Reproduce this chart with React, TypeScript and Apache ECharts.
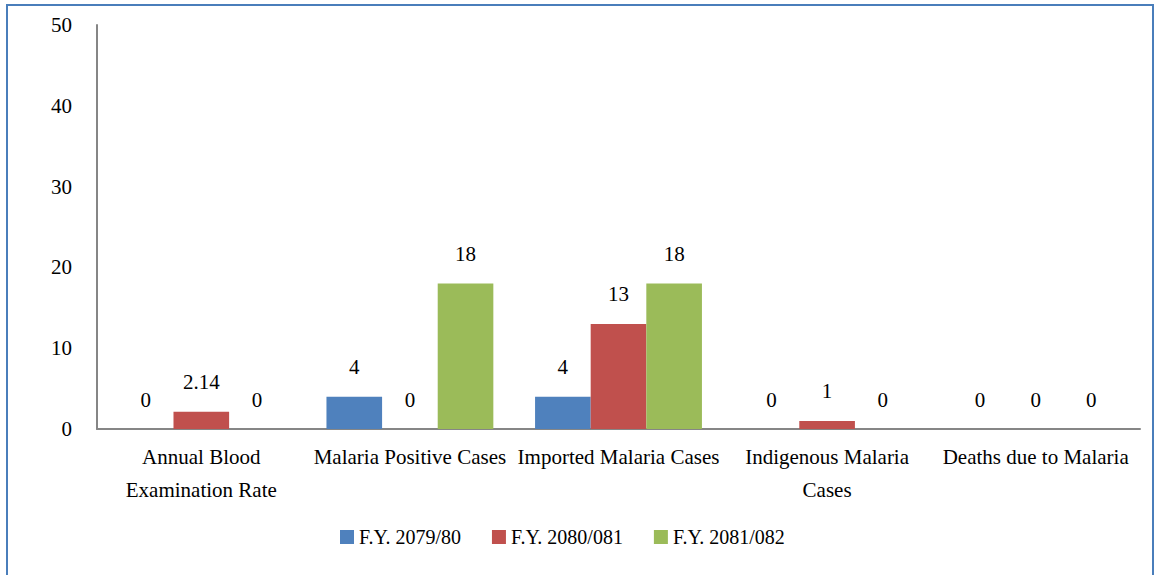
import React, { useEffect, useRef } from "react";
import * as echarts from "echarts";

const categories = [
  "Annual Blood Examination Rate",
  "Malaria Positive Cases",
  "Imported Malaria Cases",
  "Indigenous Malaria Cases",
  "Deaths due to Malaria",
];
const categoryLabels = [
  "Annual Blood\nExamination Rate",
  "Malaria Positive Cases",
  "Imported Malaria Cases",
  "Indigenous Malaria\nCases",
  "Deaths due to Malaria",
];
const seriesNames = ["F.Y. 2079/80", "F.Y. 2080/081", "F.Y. 2081/082"];
const fy2079 = [0, 4, 4, 0, 0];
const fy2080 = [2.14, 0, 13, 1, 0];
const fy2081 = [0, 18, 18, 0, 0];
const colors = ["#4f81bd", "#c0504d", "#9bbb59"];

const FONT = "Times New Roman";
const FS = 21;

export default function App() {
  const ref = useRef<HTMLDivElement>(null);
  useEffect(() => {
    if (!ref.current) return;
    const chart = echarts.init(ref.current, undefined, { renderer: "svg" });
    const data = [fy2079, fy2080, fy2081];
    chart.setOption({
      animation: false,
      textStyle: { fontFamily: FONT },
      color: colors,
      graphic: [
        {
          type: "rect",
          shape: { x: 7, y: 5, width: 1146, height: 620 },
          style: { fill: "none", stroke: "#4a7ebb", lineWidth: 2 },
          silent: true,
        },
      ],
      grid: { left: 97, right: 16, top: 25, bottom: 146 },
      legend: {
        left: 335,
        top: 522,
        itemWidth: 14,
        itemHeight: 14,
        itemGap: 31,
        icon: "rect",
        textStyle: { fontFamily: FONT, fontSize: 20, color: "#000" },
        data: seriesNames,
      },
      xAxis: {
        type: "category",
        data: categories,
        axisLine: { lineStyle: { color: "#868686", width: 2 } },
        axisTick: { show: false },
        axisLabel: {
          interval: 0,
          margin: 11,
          fontFamily: FONT,
          fontSize: FS,
          color: "#000",
          lineHeight: 33,
          formatter: (_v: string, i: number) => categoryLabels[i],
        },
      },
      yAxis: {
        type: "value",
        min: 0,
        max: 50,
        interval: 10,
        axisLine: { show: true, lineStyle: { color: "#868686", width: 2 } },
        axisTick: { show: false },
        splitLine: { show: false },
        axisLabel: { margin: 25, fontFamily: FONT, fontSize: FS, color: "#000" },
      },
      series: seriesNames.map((name, i) => ({
        name,
        type: "bar",
        data: data[i],
        barGap: "0%",
        barCategoryGap: "20%",
        itemStyle: { color: colors[i] },
        label: {
          show: true,
          position: "top",
          distance: 19,
          fontFamily: FONT,
          fontSize: FS,
          color: "#000",
        },
      })),
    });
    return () => chart.dispose();
  }, []);
  return (
    <div
      ref={ref}
      style={{ position: "fixed", left: 0, top: 0, width: 1156, height: 575, background: "#fff" }}
    />
  );
}
